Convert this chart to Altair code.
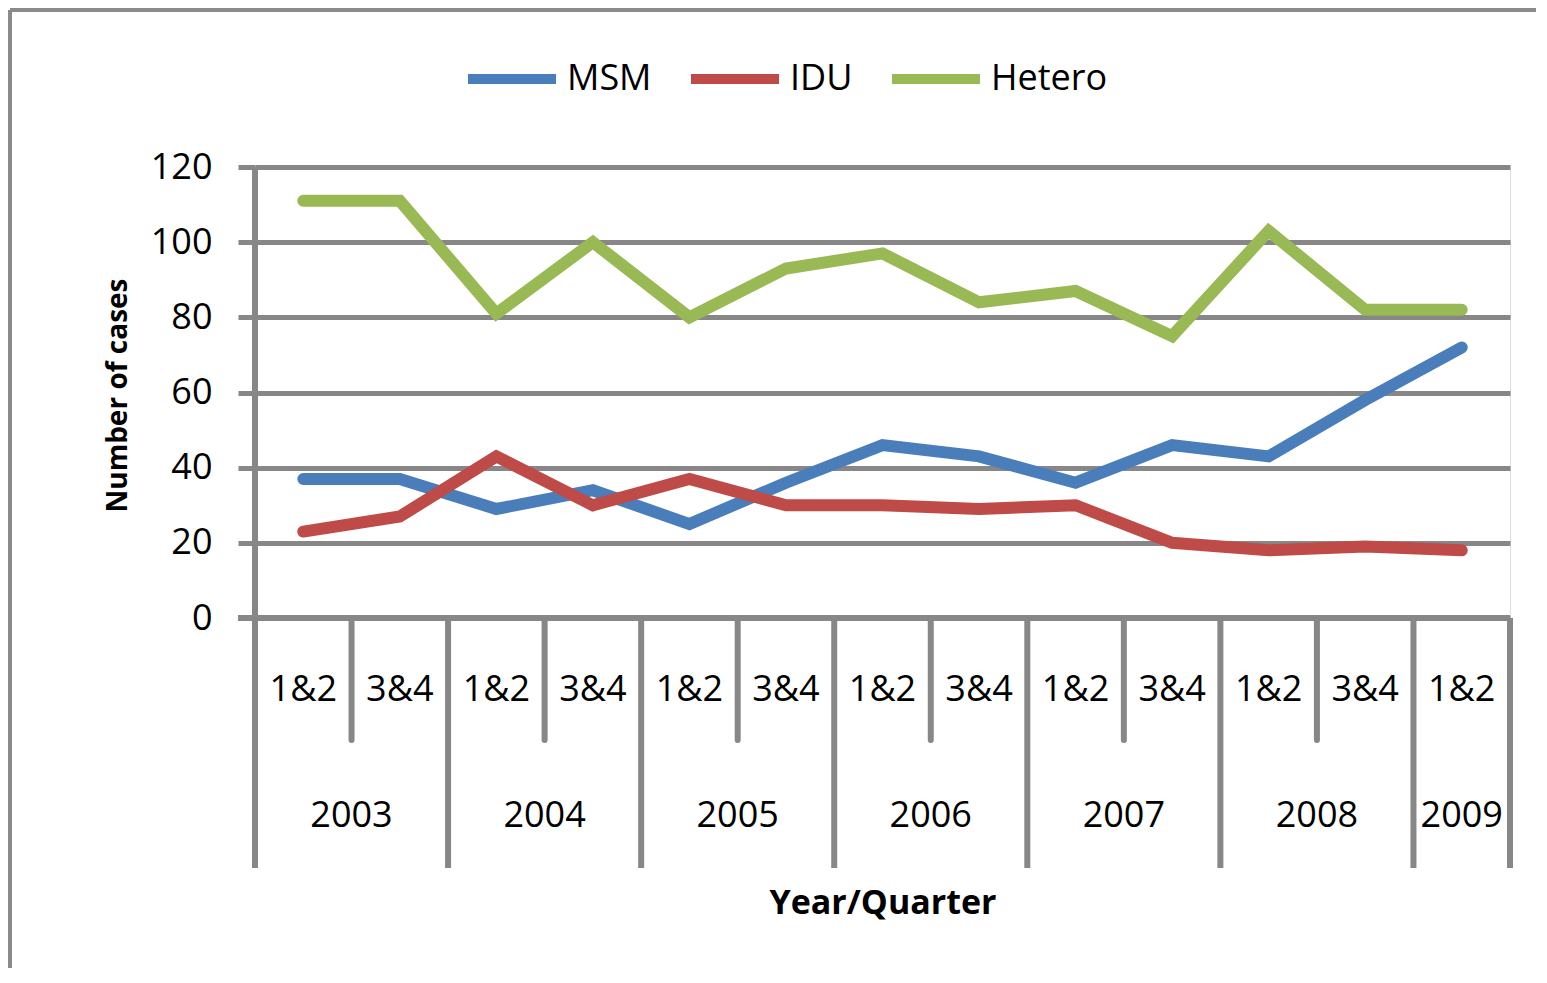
import altair as alt
import pandas as pd

quarters = ["1&2", "3&4", "1&2", "3&4", "1&2", "3&4", "1&2", "3&4", "1&2", "3&4", "1&2", "3&4", "1&2"]
years = ["2003", "2003", "2004", "2004", "2005", "2005", "2006", "2006", "2007", "2007", "2008", "2008", "2009"]
msm = [37, 37, 29, 34, 25, 36, 46, 43, 36, 46, 43, 58, 72]
idu = [23, 27, 43, 30, 37, 30, 30, 29, 30, 20, 18, 19, 18]
hetero = [111, 111, 81, 100, 80, 93, 97, 84, 87, 75, 103, 82, 82]
series_names = ["MSM", "IDU", "Hetero"]
series_colors = ["#4A7EBB", "#BE4B48", "#98B954"]
year_labels = ["2003", "2004", "2005", "2006", "2007", "2008", "2009"]
y_ticks = [0, 20, 40, 60, 80, 100, 120]

W, H = 1255, 451
FONT = "Open Sans"
GRAY = "#878787"

rows = []
for name, vals in zip(series_names, [msm, idu, hetero]):
    for i, v in enumerate(vals):
        rows.append({"idx": i, "series": name, "value": v})
df = pd.DataFrame(rows)

qdf = pd.DataFrame({"idx": list(range(len(quarters))), "q": quarters})
ydf = pd.DataFrame({"year": year_labels,
                    "pos": [sum(i for i, y in enumerate(years) if y == yr) / years.count(yr) for yr in year_labels]})

# boundaries between years (long) and between quarters (short)
long_b = [-0.5]
short_b = []
for i in range(1, len(years)):
    if years[i] != years[i - 1]:
        long_b.append(i - 0.5)
    else:
        short_b.append(i - 0.5)
long_b.append(len(years) - 0.5)
bdf = pd.DataFrame({"b": long_b[1:]})
sdf = pd.DataFrame({"b": short_b})
axdf = pd.DataFrame({"b": [-0.5]})

xscale = alt.Scale(domain=[-0.5, len(years) - 0.5], nice=False, zero=False)
yscale = alt.Scale(domain=[0, 120], nice=False)

lines = alt.Chart(df).mark_line(strokeWidth=12, strokeCap="round", strokeJoin="miter").encode(
    x=alt.X("idx:Q", scale=xscale,
            axis=alt.Axis(labels=False, ticks=False, domain=False, grid=False,
                          title="Year/Quarter", titleFont=FONT, titleFontSize=34,
                          titleFontWeight="bold", titleColor="#000000",
                          titleX=W / 2, titleY=285, titleBaseline="middle")),
    y=alt.Y("value:Q", scale=yscale,
            axis=alt.Axis(values=y_ticks, grid=True, gridColor=GRAY, gridWidth=5,
                          tickColor=GRAY, tickWidth=5, tickSize=17, domain=False,
                          labelFont=FONT, labelFontSize=36, labelColor="#000000",
                          labelPadding=26,
                          title="Number of cases", titleFont=FONT, titleFontSize=28,
                          titleFontWeight="bold", titleColor="#000000",
                          titleX=-137, titleY=228, titleAngle=270, titleBaseline="middle")),
    color=alt.Color("series:N", scale=alt.Scale(domain=series_names, range=series_colors),
                    legend=alt.Legend(title=None, orient="none", direction="horizontal",
                                      legendX=208, legendY=-137,
                                      symbolType="stroke", symbolSize=7744,
                                      symbolStrokeWidth=10, labelFont=FONT,
                                      labelFontSize=36, labelColor="#000000",
                                      labelOffset=6, columnPadding=19, padding=0)),
    order="idx:Q",
)

axis_line = alt.Chart(axdf).mark_rule(color=GRAY, strokeWidth=6).encode(
    x=alt.X("b:Q", scale=xscale), y=alt.value(0), y2=alt.value(868 - 167))
zero_line = alt.Chart(axdf).mark_rule(color=GRAY, strokeWidth=6).encode(
    x=alt.value(-17), x2=alt.value(W), y=alt.value(H))
long_ticks = alt.Chart(bdf).mark_rule(color=GRAY, strokeWidth=6).encode(
    x=alt.X("b:Q", scale=xscale), y=alt.value(H), y2=alt.value(868 - 167))
short_ticks = alt.Chart(sdf).mark_rule(color=GRAY, strokeWidth=6, strokeCap="round").encode(
    x=alt.X("b:Q", scale=xscale), y=alt.value(H), y2=alt.value(740 - 167))

q_text = alt.Chart(qdf).mark_text(font=FONT, fontSize=36, color="#000000", baseline="middle").encode(
    x=alt.X("idx:Q", scale=xscale), y=alt.value(690 - 167), text="q:N")
y_text = alt.Chart(ydf).mark_text(font=FONT, fontSize=36, color="#000000", baseline="middle").encode(
    x=alt.X("pos:Q", scale=xscale), y=alt.value(816 - 167), text="year:N")

border_v = alt.Chart(axdf).mark_rule(color="#8A8A8A", strokeWidth=4).encode(
    x=alt.value(10 - 255), y=alt.value(10 - 167), y2=alt.value(1000))
border_h = alt.Chart(axdf).mark_rule(color="#8A8A8A", strokeWidth=4).encode(
    x=alt.value(10 - 255), x2=alt.value(1400), y=alt.value(10 - 167))

chart = alt.layer(axis_line, zero_line, long_ticks, short_ticks, lines, q_text, y_text,
                  border_v, border_h).properties(
    width=W, height=H,
    autosize=alt.AutoSizeParams(type="none"),
    padding={"left": 247, "top": 159, "right": 26, "bottom": 350},
).configure_view(stroke=None).configure(background="#FFFFFF")

chart.save("out.html", embed_options={"renderer": "svg", "actions": False})
